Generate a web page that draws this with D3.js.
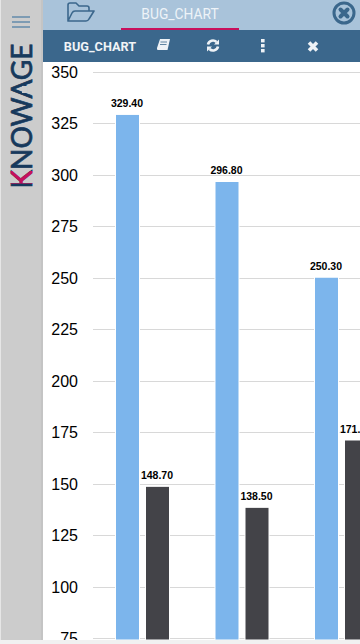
<!DOCTYPE html>
<html><head><meta charset="utf-8">
<script src="https://cdn.jsdelivr.net/npm/d3@7"></script>
<style>html,body{margin:0;padding:0;background:#fff;overflow:hidden}svg{display:block}</style>
</head><body><svg id="c" width="360" height="644"></svg>
<script>
const categories = ["Group 1","Group 2","Group 3"];
const seriesA = [329.40,296.80,250.30];
const seriesB = [148.70,138.50,171.20];
const yTicks = [75,100,125,150,175,200,225,250,275,300,325,350];
const tabTitle = "BUG_CHART";
const logoText = "KNOWAGE";

const svg = d3.select("#c");
const font = "'Liberation Sans',Arial,sans-serif";
svg.append("rect").attr("width",360).attr("height",644).attr("fill","#fff");

const y = d3.scaleLinear().domain([75,350]).range([638,72]);
const x = d3.scaleBand().domain(categories).range([95.5,394]);
const sub = d3.scaleBand().domain(["a","b"]).range([20,74]).paddingInner(0.2);

const g = svg.append("g");
g.selectAll("line.grid").data(yTicks).join("line").attr("class","grid")
 .attr("x1",93).attr("x2",360).attr("y1",d=>Math.round(y(d))+.5).attr("y2",d=>Math.round(y(d))+.5)
 .attr("stroke","#d8d8d8").attr("stroke-width",1);
g.selectAll("text.tick").data(yTicks.slice(1)).join("text").attr("class","tick")
 .attr("x",78).attr("y",d=>y(d)+6).attr("text-anchor","end")
 .attr("font-family",font).attr("font-size",16).attr("fill","#000").text(d=>d);

function bars(vals,key,color){
  const bw = sub.bandwidth();
  const gg = svg.append("g");
  gg.selectAll("rect").data(vals).join("rect")
   .attr("x",(d,i)=>x(categories[i])+sub(key)).attr("width",bw)
   .attr("y",d=>y(d)).attr("height",d=>640-y(d))
   .attr("fill",color).attr("stroke","#fff").attr("stroke-width",1);
  gg.selectAll("text").data(vals).join("text")
   .attr("x",(d,i)=>x(categories[i])+sub(key)+bw/2-.5).attr("y",d=>y(d)-7)
   .attr("text-anchor","middle").attr("font-family",font).attr("font-size",10.5).attr("font-weight",700)
   .attr("fill","#000").attr("stroke","#fff").attr("stroke-width",2).attr("paint-order","stroke")
   .text(d=>d.toFixed(2));
}
bars(seriesA,"a","#7cb5ec");
bars(seriesB,"b","#434348");
svg.append("text").attr("x",78).attr("y",y(75)+6).attr("text-anchor","end").attr("font-family",font).attr("font-size",16).attr("fill","#000").text(yTicks[0]);

// page bottom strip
svg.append("rect").attr("x",0).attr("y",640).attr("width",360).attr("height",4).attr("fill","#f1f1f1");

// top chrome
const dark="#3b678c", light="#a9c3da", ice="#eef2f6";
svg.append("rect").attr("x",42).attr("y",0).attr("width",318).attr("height",30).attr("fill",light);
svg.append("rect").attr("x",42).attr("y",30).attr("width",318).attr("height",32).attr("fill",dark);
svg.append("rect").attr("x",121).attr("y",28).attr("width",118).attr("height",2).attr("fill","#c8105c");
svg.append("text").attr("x",180).attr("y",19).attr("text-anchor","middle").attr("font-family","Roboto,sans-serif").attr("font-size",13.8).attr("fill","#eef3f8").text(tabTitle);
svg.append("text").attr("x",100).attr("y",50.5).attr("text-anchor","middle").attr("font-family","Roboto,sans-serif").attr("font-size",12.7).attr("font-weight",700).attr("fill","#f1f4f7").text(tabTitle);

// folder icon
svg.append("path").attr("d","M68 21V5Q68 3 70 3H76L79 6H87Q89 6 89 8V11H75Q73 11 72 13L68 21H86Q88 21 89 19L94 11H89").attr("fill","none").attr("stroke",dark).attr("stroke-width",1.6).attr("stroke-linejoin","round");
// close circle
svg.append("circle").attr("cx",344).attr("cy",13).attr("r",10).attr("fill",light).attr("stroke",dark).attr("stroke-width",3);
svg.append("path").attr("d","M340.5 9.5L347.5 16.5M347.5 9.5L340.5 16.5").attr("stroke",dark).attr("stroke-width",4).attr("stroke-linecap","round");
// toolbar icons
svg.append("path").attr("d","M160 39H170L167.5 50H158Q156.5 50 157 48Z").attr("fill",ice);
svg.append("path").attr("d","M160.5 42H167M160 44.5H166.5").attr("stroke",dark).attr("stroke-width",.8);
svg.append("path").attr("d","M208 44.5A5 5 0 0 1 216.5 42M218 46.5A5 5 0 0 1 209.5 49").attr("fill","none").attr("stroke",ice).attr("stroke-width",2.6);
svg.append("path").attr("d","M214 44.5H219V39.5ZM212 46.5H207V51.5Z").attr("fill",ice);
svg.selectAll("rect.dot").data([39,44,49]).join("rect").attr("class","dot").attr("x",261).attr("y",d=>d).attr("width",3.6).attr("height",3.4).attr("fill",ice);
svg.append("path").attr("d","M309 42.5L317 50.5M317 42.5L309 50.5").attr("stroke",ice).attr("stroke-width",3.6);

// sidebar
svg.append("rect").attr("x",0).attr("y",0).attr("width",42).attr("height",640).attr("fill","#cccccc");
svg.append("rect").attr("x",0).attr("y",0).attr("width",1).attr("height",640).attr("fill","#e6e6e6");
svg.append("rect").attr("x",41).attr("y",0).attr("width",2).attr("height",640).attr("fill","#c4c4c4");
svg.selectAll("rect.bur").data([16,21,26]).join("rect").attr("class","bur").attr("x",12).attr("y",d=>d).attr("width",18).attr("height",2).attr("fill","#7d9bb3");

// logo: one real text, recoloured over the K's arms, A crossbar masked
const defs = svg.append("defs");
defs.append("clipPath").attr("id","kArms").append("rect").attr("x",0).attr("y",171).attr("width",42).attr("height",12.5);
function logo(parent,fill){
  parent.append("text").attr("transform","translate(31.5,188.5) rotate(-90)")
   .attr("font-family","Lato,sans-serif").attr("font-size",28).attr("textLength",145).attr("lengthAdjust","spacingAndGlyphs")
   .attr("fill",fill).attr("stroke",fill).attr("stroke-width",.7).text(logoText);
}
logo(svg,"#17395c");
logo(svg.append("g").attr("clip-path","url(#kArms)"),"#c8105c");
svg.append("rect").attr("x",22).attr("y",86).attr("width",5).attr("height",7).attr("fill","#cccccc");
</script></body></html>
